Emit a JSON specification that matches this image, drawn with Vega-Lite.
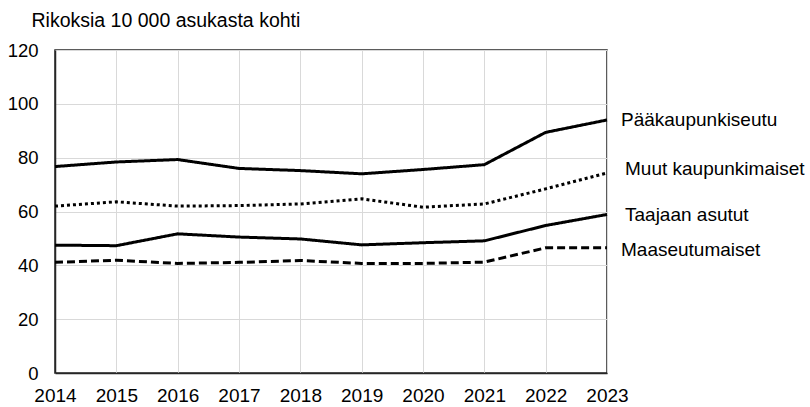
{
  "$schema": "https://vega.github.io/schema/vega-lite/v6.json",
  "width": 552,
  "height": 323,
  "autosize": "none",
  "padding": {"left": 55, "top": 50, "right": 203, "bottom": 34},
  "background": "white",
  "config": {
    "font": "Liberation Sans",
    "view": {"stroke": "#262626", "strokeWidth": 1.5}
  },
  "data": {
    "values": [
      {"year": 2014, "series": "Pääkaupunkiseutu", "value": 76.7},
      {"year": 2015, "series": "Pääkaupunkiseutu", "value": 78.4},
      {"year": 2016, "series": "Pääkaupunkiseutu", "value": 79.3},
      {"year": 2017, "series": "Pääkaupunkiseutu", "value": 76.0},
      {"year": 2018, "series": "Pääkaupunkiseutu", "value": 75.2},
      {"year": 2019, "series": "Pääkaupunkiseutu", "value": 74.0},
      {"year": 2020, "series": "Pääkaupunkiseutu", "value": 75.6},
      {"year": 2021, "series": "Pääkaupunkiseutu", "value": 77.4},
      {"year": 2022, "series": "Pääkaupunkiseutu", "value": 89.4},
      {"year": 2023, "series": "Pääkaupunkiseutu", "value": 94.0},
      {"year": 2014, "series": "Muut kaupunkimaiset", "value": 62.0},
      {"year": 2015, "series": "Muut kaupunkimaiset", "value": 63.6},
      {"year": 2016, "series": "Muut kaupunkimaiset", "value": 62.0},
      {"year": 2017, "series": "Muut kaupunkimaiset", "value": 62.2},
      {"year": 2018, "series": "Muut kaupunkimaiset", "value": 62.8},
      {"year": 2019, "series": "Muut kaupunkimaiset", "value": 64.7},
      {"year": 2020, "series": "Muut kaupunkimaiset", "value": 61.6},
      {"year": 2021, "series": "Muut kaupunkimaiset", "value": 62.8},
      {"year": 2022, "series": "Muut kaupunkimaiset", "value": 68.4},
      {"year": 2023, "series": "Muut kaupunkimaiset", "value": 74.3},
      {"year": 2014, "series": "Taajaan asutut", "value": 47.5},
      {"year": 2015, "series": "Taajaan asutut", "value": 47.3},
      {"year": 2016, "series": "Taajaan asutut", "value": 51.7},
      {"year": 2017, "series": "Taajaan asutut", "value": 50.5},
      {"year": 2018, "series": "Taajaan asutut", "value": 49.8},
      {"year": 2019, "series": "Taajaan asutut", "value": 47.6},
      {"year": 2020, "series": "Taajaan asutut", "value": 48.4},
      {"year": 2021, "series": "Taajaan asutut", "value": 49.1},
      {"year": 2022, "series": "Taajaan asutut", "value": 54.8},
      {"year": 2023, "series": "Taajaan asutut", "value": 58.9},
      {"year": 2014, "series": "Maaseutumaiset", "value": 41.1},
      {"year": 2015, "series": "Maaseutumaiset", "value": 41.9},
      {"year": 2016, "series": "Maaseutumaiset", "value": 40.7},
      {"year": 2017, "series": "Maaseutumaiset", "value": 41.1},
      {"year": 2018, "series": "Maaseutumaiset", "value": 41.8},
      {"year": 2019, "series": "Maaseutumaiset", "value": 40.7},
      {"year": 2020, "series": "Maaseutumaiset", "value": 40.7},
      {"year": 2021, "series": "Maaseutumaiset", "value": 41.2},
      {"year": 2022, "series": "Maaseutumaiset", "value": 46.5},
      {"year": 2023, "series": "Maaseutumaiset", "value": 46.5}
    ]
  },
  "encoding": {
    "x": {
      "field": "year",
      "type": "quantitative",
      "scale": {"domain": [2014, 2023], "nice": false, "zero": false},
      "axis": {
        "values": [2014, 2015, 2016, 2017, 2018, 2019, 2020, 2021, 2022, 2023],
        "format": "d",
        "title": null,
        "grid": true,
        "gridColor": "#d9d9d9",
        "gridWidth": 1,
        "domain": true,
        "domainColor": "#262626",
        "domainWidth": 1.5,
        "ticks": false,
        "labelPadding": 13,
        "labelFontSize": 19,
        "labelColor": "#000000",
        "labelFlush": false
      }
    },
    "y": {
      "field": "value",
      "type": "quantitative",
      "scale": {"domain": [0, 120], "nice": false},
      "axis": {
        "values": [0, 20, 40, 60, 80, 100, 120],
        "title": "Rikoksia 10 000 asukasta kohti",
        "titleAngle": 0,
        "titleAlign": "left",
        "titleBaseline": "alphabetic",
        "titleX": -24,
        "titleY": -24,
        "titleFontSize": 19.5,
        "titleFontWeight": "normal",
        "titleColor": "#000000",
        "grid": true,
        "gridColor": "#d9d9d9",
        "gridWidth": 1,
        "domainColor": "#262626",
        "domainWidth": 1.5,
        "ticks": false,
        "labelPadding": 17,
        "labelFontSize": 18.5,
        "labelColor": "#000000"
      }
    }
  },
  "layer": [
    {
      "mark": {"type": "line", "color": "black", "strokeWidth": 3},
      "encoding": {
        "detail": {"field": "series"},
        "strokeDash": {
          "field": "series",
          "type": "nominal",
          "scale": {
            "domain": ["Pääkaupunkiseutu", "Muut kaupunkimaiset", "Taajaan asutut", "Maaseutumaiset"],
            "range": [[1, 0], [3, 3], [1, 0], [8, 4]]
          },
          "legend": null
        }
      }
    },
    {
      "transform": [{"filter": "datum.year == 2023 && datum.series == 'Pääkaupunkiseutu'"}],
      "mark": {"type": "text", "align": "left", "baseline": "middle", "dx": 14, "dy": 0, "fontSize": 19, "color": "black"},
      "encoding": {"text": {"field": "series"}}
    },
    {
      "transform": [{"filter": "datum.year == 2023 && datum.series == 'Muut kaupunkimaiset'"}],
      "mark": {"type": "text", "align": "left", "baseline": "middle", "dx": 18, "dy": -4, "fontSize": 19, "color": "black"},
      "encoding": {"text": {"field": "series"}}
    },
    {
      "transform": [{"filter": "datum.year == 2023 && datum.series == 'Taajaan asutut'"}],
      "mark": {"type": "text", "align": "left", "baseline": "middle", "dx": 18, "dy": 1, "fontSize": 19, "color": "black"},
      "encoding": {"text": {"field": "series"}}
    },
    {
      "transform": [{"filter": "datum.year == 2023 && datum.series == 'Maaseutumaiset'"}],
      "mark": {"type": "text", "align": "left", "baseline": "middle", "dx": 14, "dy": 2.5, "fontSize": 19, "color": "black"},
      "encoding": {"text": {"field": "series"}}
    }
  ]
}
